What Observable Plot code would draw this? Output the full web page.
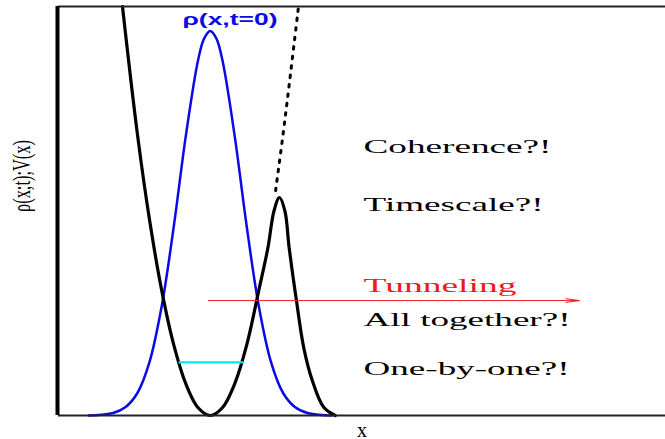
<!DOCTYPE html>
<html>
<head>
<meta charset="utf-8">
<script src="https://cdn.jsdelivr.net/npm/d3@7"></script>
<script src="https://cdn.jsdelivr.net/npm/@observablehq/plot@0.6"></script>
<style>
  html, body { margin: 0; padding: 0; background: #fff; }
</style>
</head>
<body>
<div id="chart"></div>
<script>
// Initial density rho(x, t=0) (blue)
const rhoX = [0.5, 0.7, 0.9, 1.1, 1.3, 1.5, 1.7, 1.9, 2.1, 2.3, 2.4, 2.5, 2.6, 2.7, 2.9, 3.1, 3.3, 3.5, 3.7, 3.9, 4.1, 4.3, 4.5];
const rhoY = [0, 0.002, 0.006, 0.02, 0.055, 0.131, 0.267, 0.463, 0.686, 0.869, 0.922, 0.94, 0.922, 0.869, 0.686, 0.463, 0.267, 0.131, 0.055, 0.02, 0.006, 0.002, 0];

// Potential V(x) (black, solid)
const potX = [1.054, 1.3, 1.5, 1.7, 1.9, 2.1, 2.3, 2.5, 2.7, 2.9, 3.1, 3.3, 3.45, 3.55, 3.64, 3.73, 3.8, 3.92, 4.04, 4.18, 4.37, 4.56];
const potY = [1.0, 0.688, 0.478, 0.306, 0.172, 0.0765, 0.019, 0, 0.019, 0.0765, 0.172, 0.306, 0.41, 0.5, 0.533, 0.5, 0.41, 0.281, 0.166, 0.086, 0.02, 0];

// Harmonic continuation of the potential (black, dotted)
const harmX = [3.577, 3.7, 3.8, 3.954];
const harmY = [0.55, 0.688, 0.808, 1.0];

// Energy level (cyan)
const levelX = [1.977, 3.047];
const levelY = 0.13;

// Tunneling arrow (red)
const arrowX = [2.47, 8.58];
const arrowY = 0.281;

// Annotations
const noteLabels = ["Coherence?!", "Timescale?!", "Tunneling", "All together?!", "One-by-one?!"];
const noteX = 5.025;
const noteY = [0.643, 0.501, 0.303, 0.22, 0.098];
const rhoLabel = "ρ(x,t=0)";
const rhoLabelX = 2.825;
const rhoLabelY = 0.954;
const xLabel = "x";
const yLabel = "ρ(x;t);V(x)";

const rho = rhoX.map((x, i) => ({x, y: rhoY[i]}));
const pot = potX.map((x, i) => ({x, y: potY[i]}));
const harm = harmX.map((x, i) => ({x, y: harmY[i]}));
const notes = noteLabels.map((t, i) => ({t, x: noteX, y: noteY[i]}));

const chart = Plot.plot({
  width: 665,
  height: 439,
  marginTop: 6,
  marginBottom: 24,
  marginLeft: 58,
  marginRight: 0,
  x: {domain: [0, 10], axis: null},
  y: {domain: [0, 1], axis: null},
  marks: [
    Plot.line(rho, {x: "x", y: "y", stroke: "#0a0ae6", strokeWidth: 2.5, curve: "catmull-rom"}),
    Plot.line(pot, {x: "x", y: "y", stroke: "black", strokeWidth: 3.2, curve: "catmull-rom"}),
    Plot.line(harm, {x: "x", y: "y", stroke: "black", strokeWidth: 3, strokeDasharray: "2.5,7", curve: "catmull-rom"}),
    Plot.link([{}], {x1: levelX[0], x2: levelX[1], y1: levelY, y2: levelY, stroke: "#00e8f0", strokeWidth: 2.2}),
    Plot.arrow([{}], {x1: arrowX[0], x2: arrowX[1], y1: arrowY, y2: arrowY, stroke: "#f02020", strokeWidth: 1, headLength: 20, headAngle: 16}),
    Plot.text(notes, {x: "x", y: "y", text: "t", textAnchor: "start", lineAnchor: "bottom",
      fill: d => d.t === "Tunneling" ? "#f01818" : "black",
      fontFamily: "Liberation Serif", fontSize: 18.5}),
    Plot.text([rhoLabel], {x: rhoLabelX, y: rhoLabelY, text: d => d, textAnchor: "middle", lineAnchor: "bottom",
      fill: "#0a0ae6", fontFamily: "Liberation Sans", fontSize: 17, fontWeight: "bold"}),
    Plot.text([yLabel], {frameAnchor: "left", text: d => d, rotate: -90, dx: -37, dy: 1,
      fill: "black", fontFamily: "Liberation Serif", fontSize: 25, lineAnchor: "middle"}),
    Plot.text([xLabel], {frameAnchor: "bottom", text: d => d, dy: 21, lineAnchor: "bottom",
      fill: "black", fontFamily: "Liberation Serif", fontSize: 20}),
    Plot.ruleY([0], {stroke: "#222", strokeWidth: 2}),
    Plot.ruleY([1], {stroke: "#222", strokeWidth: 2}),
    Plot.ruleX([0], {stroke: "black", strokeWidth: 4, dx: -1})
  ]
});

// stretch texts to the widths seen in the reference
const stretch = {
  "Coherence?!": 188,
  "Timescale?!": 180,
  "Tunneling": 153,
  "All together?!": 207,
  "One-by-one?!": 206,
  "ρ(x,t=0)": 95,
  "ρ(x;t);V(x)": 72
};
d3.select(chart).selectAll("text").each(function() {
  const t = this.textContent;
  if (stretch[t]) {
    this.setAttribute("textLength", stretch[t]);
    this.setAttribute("lengthAdjust", "spacingAndGlyphs");
  }
});

document.getElementById("chart").appendChild(chart);
</script>
</body>
</html>
